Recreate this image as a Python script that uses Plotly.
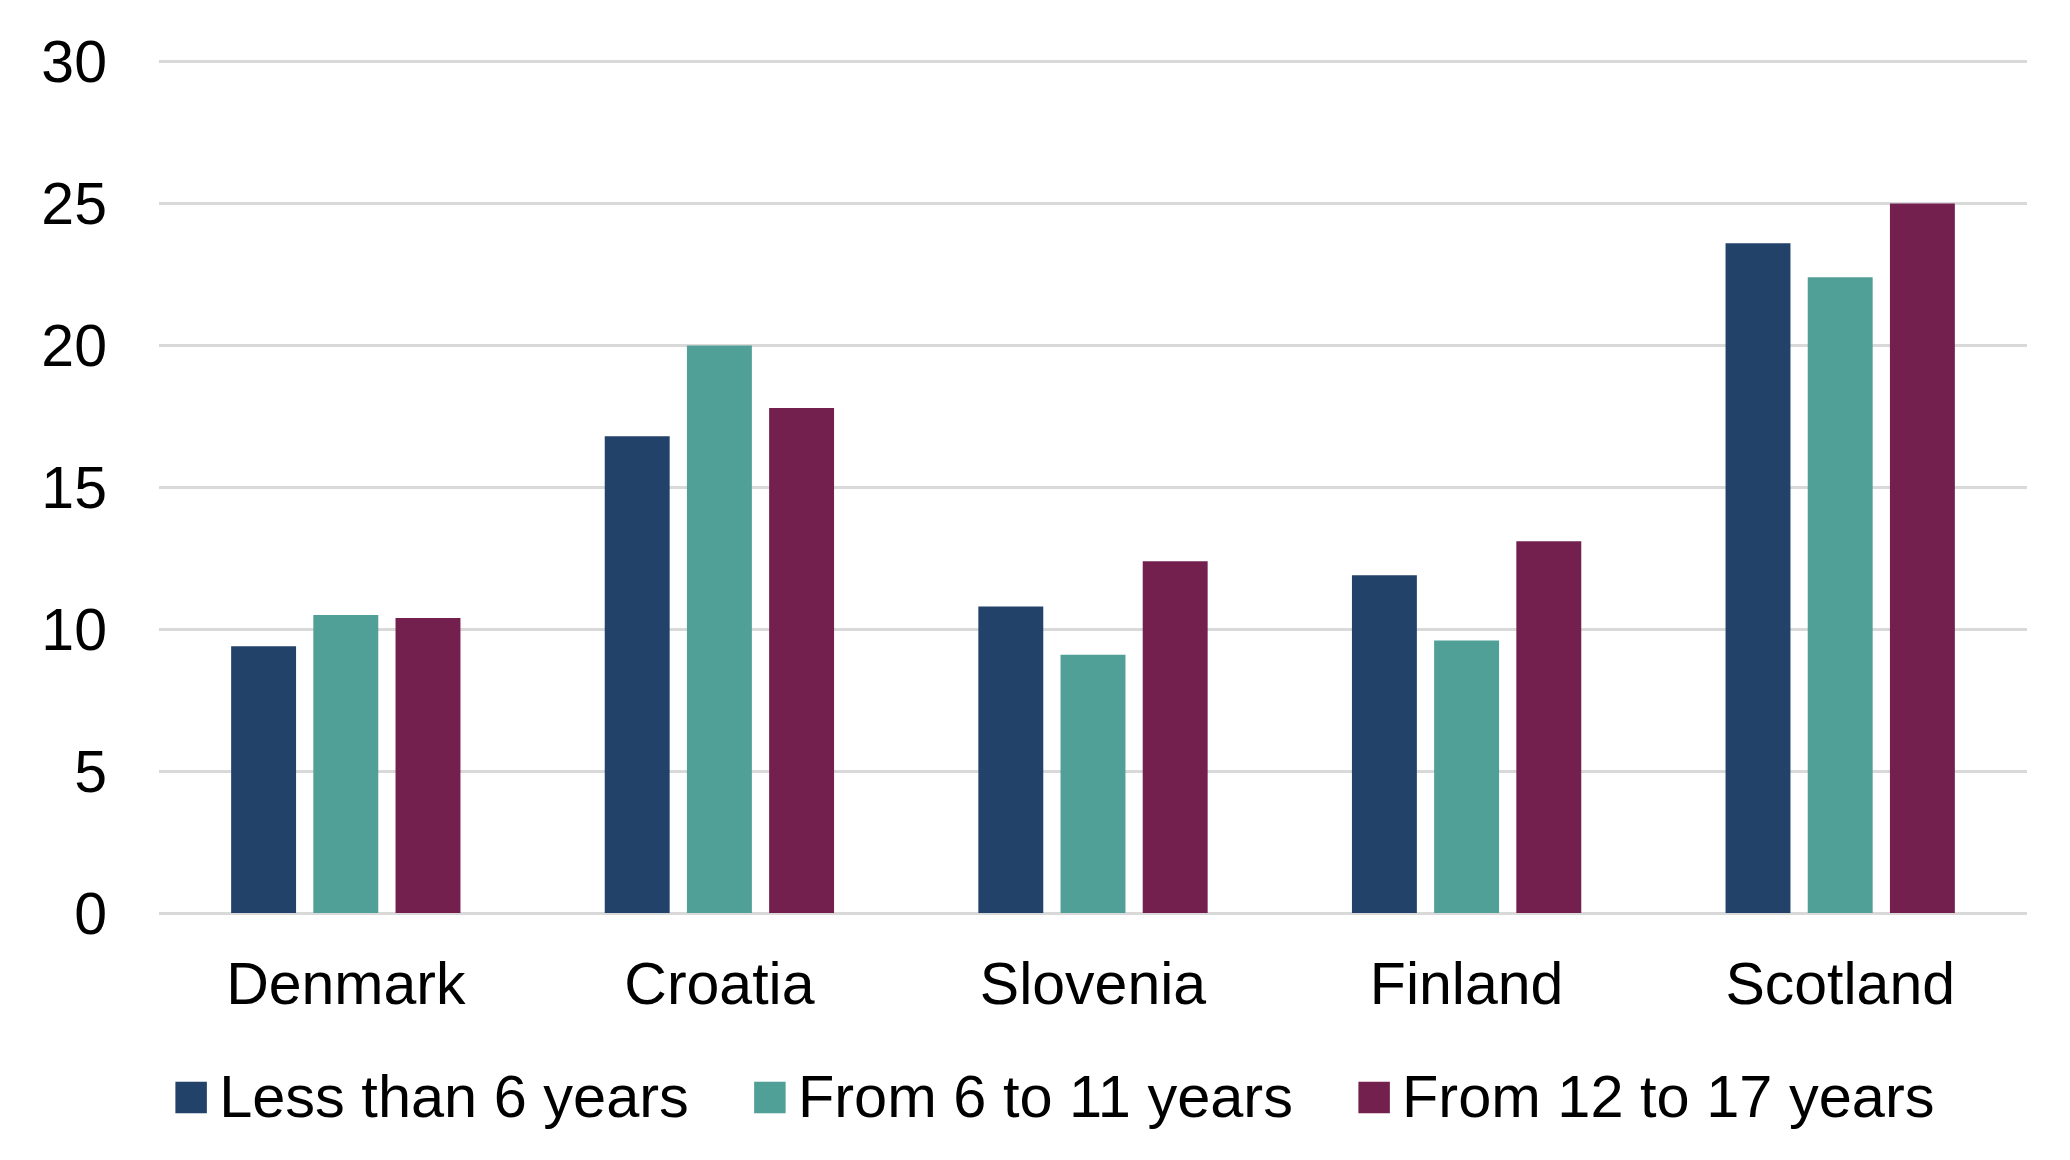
import plotly.graph_objects as go

COUNTRIES = ['Denmark', 'Croatia', 'Slovenia', 'Finland', 'Scotland']
UNDER_6 = [9.4, 16.8, 10.8, 11.9, 23.6]
FROM_6_TO_11 = [10.5, 20.0, 9.1, 9.6, 22.4]
FROM_12_TO_17 = [10.4, 17.8, 12.4, 13.1, 25.0]

SERIES = [
    ('Less than 6 years', UNDER_6, '#22426A'),
    ('From 6 to 11 years', FROM_6_TO_11, '#50A097'),
    ('From 12 to 17 years', FROM_12_TO_17, '#73204E'),
]

FONT = 'Liberation Sans, Arial, sans-serif'

fig = go.Figure()
for name, values, color in SERIES:
    fig.add_trace(go.Bar(x=COUNTRIES, y=values, name=name, marker_color=color,
                         marker_line_width=0, showlegend=False))

# legend-only entries so the coloured squares can be as large as the text
for name, values, color in SERIES:
    label = (f'<span style="color:{color};font-size:65px">■</span>'
             f'<span style="font-size:30px"> </span>{name} ')
    fig.add_trace(go.Scatter(x=[None], y=[None], mode='markers',
                             marker=dict(size=0.1, color='rgba(0,0,0,0)', line_width=0),
                             name=label))

# page body has an 8px margin, so the figure is a bit smaller and shifted
fig.update_layout(
    width=2054, height=1144,
    margin=dict(l=151, r=35, t=52, b=239, autoexpand=False),
    plot_bgcolor='white', paper_bgcolor='white',
    font=dict(family=FONT, size=59, color='black'),
    barmode='group', bargap=0.34, bargroupgap=0.21,
    legend=dict(orientation='h', x=-0.0147, xanchor='left', y=-0.212, yanchor='middle',
                font=dict(size=59.5), itemwidth=30, bgcolor='rgba(0,0,0,0)'),
)
fig.update_yaxes(range=[0, 30.06], dtick=5, showgrid=True, gridcolor='#D9D9D9', gridwidth=2.5,
                 zeroline=True, zerolinecolor='#D9D9D9', zerolinewidth=2.5, automargin=False,
                 showline=False, ticks='', ticklabelstandoff=51)
fig.update_xaxes(showgrid=False, showline=False, ticks='', ticklabelstandoff=31, automargin=False)

fig.write_html('out.html')
